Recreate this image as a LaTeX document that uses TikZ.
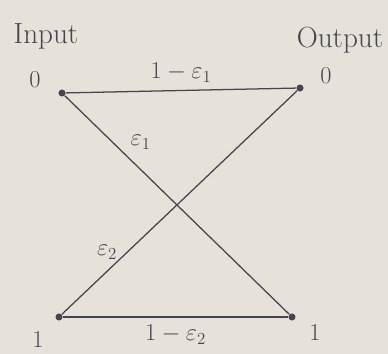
\documentclass[tikz,border=0pt]{standalone}
\usepackage{amsmath}
\usepackage{xcolor}
\usetikzlibrary{calc}
\definecolor{paperColor}{HTML}{E6E2DA}
\definecolor{penColor}{HTML}{45454F}

\tikzset{
    dot/.style={circle, fill=penColor, inner sep=0pt, minimum size=5pt},
    lbl/.style={text=penColor, font=\LARGE},
    wire/.style={penColor, line width=0.9pt}
}

\begin{document}
\begin{tikzpicture}[x=0.025cm, y=-0.025cm]
    \fill[paperColor] (0,0) rectangle (388,354);
    \useasboundingbox (0,0) rectangle (388,354);
    % headings
    \node[lbl, font=\huge] (inhead) at (46,36) {Input};
    \node[lbl, font=\huge] (outhead) at (340,40) {Output};
    % symbols
    \node[dot] (in0) at (62,93) {};
    \node[dot] (in1) at (59,317) {};
    \node[dot] (out0) at (300,88) {};
    \node[dot] (out1) at (292,317) {};
    \node[lbl] (in0lbl) at (35,80) {$0$};
    \node[lbl] (in1lbl) at (38,340) {$1$};
    \node[lbl] (out0lbl) at (326,76) {$0$};
    \node[lbl] (out1lbl) at (315,333) {$1$};
    % transitions
    \draw[wire] (in0) -- node[lbl, above=2pt] {$1-\varepsilon_1$} (out0);
    \draw[wire] (in1) -- node[lbl, below=2pt] {$1-\varepsilon_2$} (out1);
    \draw[wire] (in0) -- node[lbl, pos=0.27, anchor=south west] {$\varepsilon_1$} (out1);
    \draw[wire] (in1) -- node[lbl, pos=0.24, above left=-3pt] {$\varepsilon_2$} (out0);
\end{tikzpicture}
\end{document}
